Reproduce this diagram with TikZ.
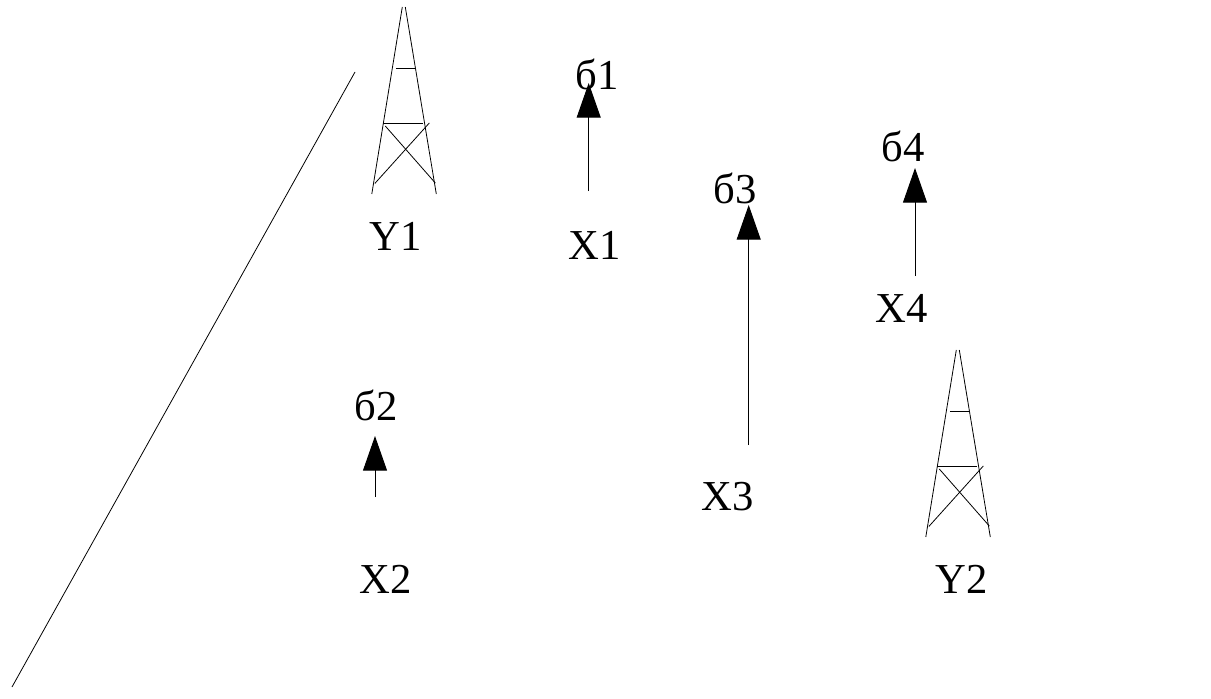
\documentclass[tikz,border=0pt]{standalone}
\usepackage{fontspec}
\setmainfont{Liberation Serif}
\usetikzlibrary{arrows.meta}

\begin{document}
\begin{tikzpicture}[
    x=0.75pt, y=-0.75pt,
    lbl/.style={inner sep=0pt, font=\fontsize{32pt}{36pt}\selectfont},
    arrow/.style={-{Triangle[width=18pt,length=26pt]}, line width=0.75pt},
    wire/.style={line width=0.6pt},
    pics/tower/.style={code={
        \draw[wire] (0,0) -- (-30.5,187);
        \draw[wire] (3,0) -- (34,187);
        \draw[wire] (-6.5,61.5) -- (13.5,61.5);
        \draw[wire] (-19,116) -- (20.5,116);
        \draw[wire] (-17,119) -- (33,176);
        \draw[wire] (27,116) -- (-27.5,176.5);
    }}
]
    \useasboundingbox (0,0) rectangle (1211,699);

    % Towers
    \pic at (402.3,7) {tower};
    \pic at (956.3,350) {tower};
    \node[lbl] (y1) at (396,236) {Y1};
    \node[lbl] (y2) at (962,579) {Y2};

    % Labels
    \node[lbl] (x1) at (595,245) {X1};
    \node[lbl] (x2) at (386,579) {X2};
    \node[lbl] (x3) at (728,497) {X3};
    \node[lbl] (x4) at (902,308) {X4};
    \node[lbl] (s1) at (597,74) {б1};
    \node[lbl] (s2) at (376,405) {б2};
    \node[lbl] (s3) at (735,188) {б3};
    \node[lbl] (s4) at (903,146) {б4};

    % Arrow ends
    \coordinate (a1) at (588.7,191);
    \coordinate (b1) at (588.7,83);
    \coordinate (a2) at (375,497);
    \coordinate (b2) at (375,436);
    \coordinate (a3) at (748.7,445);
    \coordinate (b3) at (748.7,205);
    \coordinate (a4) at (915,276);
    \coordinate (b4) at (915,168);
    \coordinate (l1) at (355,72);
    \coordinate (l2) at (12,687);

    % Arrows
    \draw[arrow] (a1) -- (b1);
    \draw[arrow] (a2) -- (b2);
    \draw[arrow] (a3) -- (b3);
    \draw[arrow] (a4) -- (b4);
    \draw[wire] (l1) -- (l2);
\end{tikzpicture}
\end{document}
